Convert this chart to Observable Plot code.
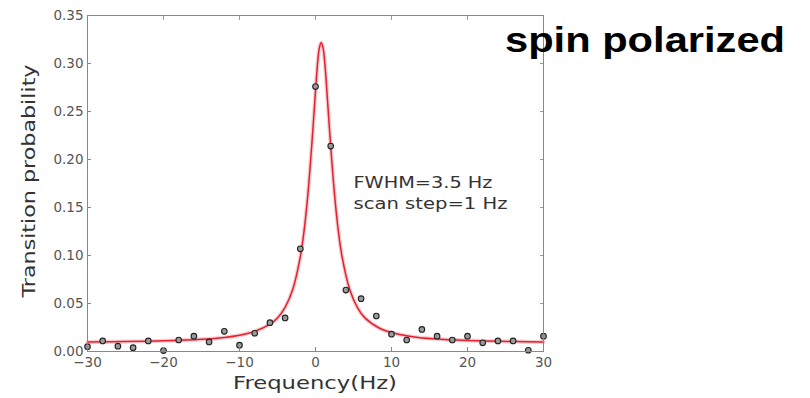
<!DOCTYPE html>
<html>
<head>
<meta charset="utf-8">
<script src="https://cdn.jsdelivr.net/npm/d3@7"></script>
<script src="https://cdn.jsdelivr.net/npm/@observablehq/plot@0.6"></script>
<style>
  html, body { margin: 0; padding: 0; background: #fff; }
  #chart svg { display: block; }
</style>
</head>
<body>
<div id="chart"></div>
<script>
// measured points (Hz, transition probability)
const freq = [-30,-28,-26,-24,-22,-20,-18,-16,-14,-12,-10,-8,-6,-4,-2,0,2,4,6,8,10,12,14,16,18,20,22,24,26,28,30];
const prob = [0.005,0.011,0.0055,0.004,0.011,0.001,0.012,0.016,0.010,0.021,0.0066,0.019,0.030,0.035,0.107,0.276,0.214,0.064,0.055,0.037,0.018,0.012,0.023,0.016,0.012,0.016,0.009,0.011,0.011,0.0013,0.016];

// fitted curve
const fitX = [-30,-25,-20,-15,-12,-10,-8,-6,-5,-4,-3,-2,-1.5,-1,-0.5,0,0.25,0.5,0.75,1,1.25,1.5,2,2.5,3,3.5,4.5,5.5,6.5,8.5,10.5,13.5,16.5,21.5,26.5,30];
const fitY = [0.010,0.0104,0.0112,0.0128,0.0147,0.017,0.021,0.0285,0.035,0.046,0.0645,0.0985,0.126,0.164,0.214,0.271,0.298,0.316,0.322,0.316,0.298,0.271,0.214,0.164,0.126,0.0985,0.0645,0.046,0.035,0.024,0.0187,0.0147,0.0128,0.0112,0.0104,0.0100];

const xTicks = [-30,-20,-10,0,10,20,30];
const yTicks = [0,0.05,0.10,0.15,0.20,0.25,0.30,0.35];

const annLines = ["FWHM=3.5 Hz", "scan step=1 Hz"];
const annX = [5, 5];
const annY = [0.176, 0.154];

const titleText = "spin polarized";
const xLabel = "Frequency(Hz)";
const yLabel = "Transition probability";

const points = freq.map((f, i) => ({f, p: prob[i]}));
const fit = fitX.map((f, i) => ({f, p: fitY[i]}));
const ann = annLines.map((t, i) => ({t, x: annX[i], y: annY[i]}));

const chart = Plot.plot({
  width: 810,
  height: 398,
  marginLeft: 87,
  marginRight: 267,
  marginTop: 15,
  marginBottom: 47,
  style: {fontFamily: "DejaVu Sans", fontSize: "13.5px", color: "#555", background: "#fff"},
  x: {domain: [-30, 30]},
  y: {domain: [0, 0.35]},
  marks: [
    Plot.line(fit, {x: "f", y: "p", stroke: "#f3a3aa", strokeWidth: 4, strokeOpacity: 0.55, curve: "catmull-rom"}),
    Plot.line(fit, {x: "f", y: "p", stroke: "#e2222f", strokeWidth: 1.5, curve: "catmull-rom"}),
    Plot.dot(points, {x: "f", y: "p", r: 2.8, fill: "#9a9a9a", stroke: "#222", strokeWidth: 1.1}),
    Plot.text(ann, {x: "x", y: "y", text: "t", textAnchor: "start", fontSize: 16.5, fill: "#333", fontFamily: "DejaVu Sans"}),
    Plot.axisX({ticks: xTicks, tickFormat: d3.format("d"), tickSize: -4, tickPadding: 10, stroke: "#888", label: null}),
    Plot.axisX({ticks: xTicks, anchor: "top", tickSize: -4, tickFormat: () => "", stroke: "#999", label: null}),
    Plot.axisY({ticks: yTicks, tickFormat: d3.format(".2f"), tickSize: -4, tickPadding: 8, stroke: "#888", label: null}),
    Plot.axisY({ticks: yTicks, anchor: "right", tickSize: -4, tickFormat: () => "", stroke: "#999", label: null}),
    Plot.frame({stroke: "#888"})
  ]
});

document.getElementById("chart").appendChild(chart);

const svg = d3.select(chart);
// stretch annotation text to measured widths
const annWidths = [139, 154];
svg.selectAll("text").each(function() {
  const t = this.textContent;
  const idx = annLines.indexOf(t);
  if (idx >= 0) {
    d3.select(this).attr("textLength", annWidths[idx]).attr("lengthAdjust", "spacingAndGlyphs");
  }
});

svg.append("text")
  .attr("x", 315).attr("y", 389)
  .attr("text-anchor", "middle")
  .attr("font-family", "DejaVu Sans").attr("font-size", 18).attr("fill", "#333")
  .attr("textLength", 164).attr("lengthAdjust", "spacingAndGlyphs")
  .text(xLabel);

svg.append("text")
  .attr("transform", "translate(35,181) rotate(-90)")
  .attr("text-anchor", "middle")
  .attr("font-family", "DejaVu Sans").attr("font-size", 18).attr("fill", "#333")
  .attr("textLength", 233).attr("lengthAdjust", "spacingAndGlyphs")
  .text(yLabel);

svg.append("text")
  .attr("x", 505).attr("y", 52)
  .attr("text-anchor", "start")
  .attr("font-family", "Liberation Sans, Arial").attr("font-weight", "bold").attr("font-size", 35).attr("fill", "#000")
  .attr("textLength", 280).attr("lengthAdjust", "spacingAndGlyphs")
  .text(titleText);
</script>
</body>
</html>
